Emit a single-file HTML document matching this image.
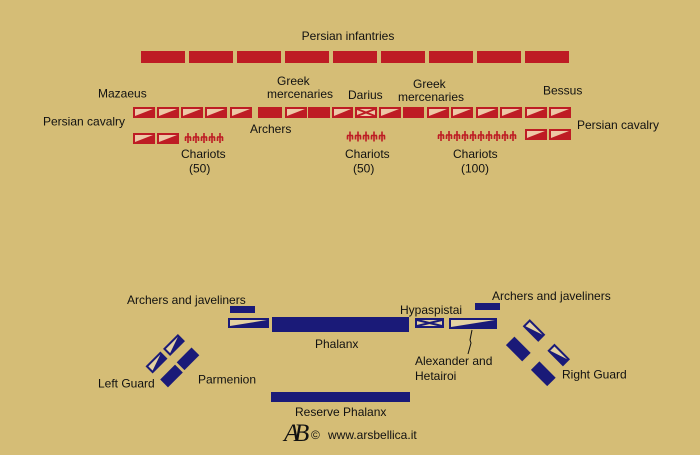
<!DOCTYPE html>
<html>
<head>
<meta charset="utf-8">
<style>
  html, body { margin:0; padding:0; background:#D5BD76; }
  svg { display:block; }
  text { font-family:"Liberation Sans", Arial, sans-serif; font-size:12px; fill:#111; }
</style>
</head>
<body>
<svg width="700" height="455" viewBox="0 0 700 455" xmlns="http://www.w3.org/2000/svg">
  <rect width="700" height="455" fill="#D5BD76"/>

  <!-- Persian infantries -->
  <text x="348" y="40" text-anchor="middle">Persian infantries</text>
  <g fill="#BE1C24">
    <rect x="141" y="51" width="44" height="12"/>
    <rect x="189" y="51" width="44" height="12"/>
    <rect x="237" y="51" width="44" height="12"/>
    <rect x="285" y="51" width="44" height="12"/>
    <rect x="333" y="51" width="44" height="12"/>
    <rect x="381" y="51" width="44" height="12"/>
    <rect x="429" y="51" width="44" height="12"/>
    <rect x="477" y="51" width="44" height="12"/>
    <rect x="525" y="51" width="44" height="12"/>
  </g>

  <!-- Persian labels -->
  <text x="98" y="97.5">Mazaeus</text>
  <text x="43" y="125.5">Persian cavalry</text>
  <text x="277" y="85">Greek</text>
  <text x="267" y="98">mercenaries</text>
  <text x="348" y="99">Darius</text>
  <text x="413" y="88">Greek</text>
  <text x="398" y="101">mercenaries</text>
  <text x="543" y="94.5">Bessus</text>
  <text x="577" y="129">Persian cavalry</text>
  <text x="250" y="133">Archers</text>
  <text x="181" y="158">Chariots</text>
  <text x="189" y="172.5">(50)</text>
  <text x="345" y="158">Chariots</text>
  <text x="353" y="172.5">(50)</text>
  <text x="453" y="158">Chariots</text>
  <text x="461" y="172.5">(100)</text>

  <!-- Persian front line -->
  <g transform="translate(133,107)"><rect width="22" height="11" fill="#BE1C24"/><polygon points="2,2 20,2 2,9" fill="#EDC8A6"/></g>
  <g transform="translate(157,107)"><rect width="22" height="11" fill="#BE1C24"/><polygon points="2,2 20,2 2,9" fill="#EDC8A6"/></g>
  <g transform="translate(181,107)"><rect width="22" height="11" fill="#BE1C24"/><polygon points="2,2 20,2 2,9" fill="#EDC8A6"/></g>
  <g transform="translate(205,107)"><rect width="22" height="11" fill="#BE1C24"/><polygon points="2,2 20,2 2,9" fill="#EDC8A6"/></g>
  <g transform="translate(230,107)"><rect width="22" height="11" fill="#BE1C24"/><polygon points="2,2 20,2 2,9" fill="#EDC8A6"/></g>
  <rect x="258" y="107" width="24" height="11" fill="#BE1C24"/>
  <g transform="translate(285,107)"><rect width="22" height="11" fill="#BE1C24"/><polygon points="2,2 20,2 2,9" fill="#EDC8A6"/></g>
  <rect x="308" y="107" width="22" height="11" fill="#BE1C24"/>
  <g transform="translate(332,107)"><rect width="21" height="11" fill="#BE1C24"/><polygon points="2,2 19,2 2,9" fill="#EDC8A6"/></g>
  <g transform="translate(355,107)"><rect width="22" height="11" fill="#BE1C24"/><rect x="2" y="2" width="18" height="7" fill="#EDC8A6"/><path d="M2,2 L20,9 M20,2 L2,9" stroke="#BE1C24" stroke-width="2"/></g>
  <g transform="translate(379,107)"><rect width="22" height="11" fill="#BE1C24"/><polygon points="2,2 20,2 2,9" fill="#EDC8A6"/></g>
  <rect x="403" y="107" width="21" height="11" fill="#BE1C24"/>
  <g transform="translate(427,107)"><rect width="22" height="11" fill="#BE1C24"/><polygon points="2,2 20,2 2,9" fill="#EDC8A6"/></g>
  <g transform="translate(451,107)"><rect width="22" height="11" fill="#BE1C24"/><polygon points="2,2 20,2 2,9" fill="#EDC8A6"/></g>
  <g transform="translate(476,107)"><rect width="22" height="11" fill="#BE1C24"/><polygon points="2,2 20,2 2,9" fill="#EDC8A6"/></g>
  <g transform="translate(500,107)"><rect width="22" height="11" fill="#BE1C24"/><polygon points="2,2 20,2 2,9" fill="#EDC8A6"/></g>
  <g transform="translate(525,107)"><rect width="22" height="11" fill="#BE1C24"/><polygon points="2,2 20,2 2,9" fill="#EDC8A6"/></g>
  <g transform="translate(549,107)"><rect width="22" height="11" fill="#BE1C24"/><polygon points="2,2 20,2 2,9" fill="#EDC8A6"/></g>

  <!-- Persian second row -->
  <g transform="translate(133,133)"><rect width="22" height="11" fill="#BE1C24"/><polygon points="2,2 20,2 2,9" fill="#EDC8A6"/></g>
  <g transform="translate(157,133)"><rect width="22" height="11" fill="#BE1C24"/><polygon points="2,2 20,2 2,9" fill="#EDC8A6"/></g>
  <g transform="translate(525,129)"><rect width="22" height="11" fill="#BE1C24"/><polygon points="2,2 20,2 2,9" fill="#EDC8A6"/></g>
  <g transform="translate(549,129)"><rect width="22" height="11" fill="#BE1C24"/><polygon points="2,2 20,2 2,9" fill="#EDC8A6"/></g>

  <!-- Chariots -->
  <g stroke="#BE1C24" stroke-width="1.6" fill="none">
    <g transform="translate(188,133)"><path d="M0,0 V10 M-3,4 H3 M-2.5,4 V8 M2.5,4 V8"/></g>
    <g transform="translate(196,133)"><path d="M0,0 V10 M-3,4 H3 M-2.5,4 V8 M2.5,4 V8"/></g>
    <g transform="translate(204,133)"><path d="M0,0 V10 M-3,4 H3 M-2.5,4 V8 M2.5,4 V8"/></g>
    <g transform="translate(212,133)"><path d="M0,0 V10 M-3,4 H3 M-2.5,4 V8 M2.5,4 V8"/></g>
    <g transform="translate(220,133)"><path d="M0,0 V10 M-3,4 H3 M-2.5,4 V8 M2.5,4 V8"/></g>
    <g transform="translate(350,131.5)"><path d="M0,0 V10 M-3,4 H3 M-2.5,4 V8 M2.5,4 V8"/></g>
    <g transform="translate(358,131.5)"><path d="M0,0 V10 M-3,4 H3 M-2.5,4 V8 M2.5,4 V8"/></g>
    <g transform="translate(366,131.5)"><path d="M0,0 V10 M-3,4 H3 M-2.5,4 V8 M2.5,4 V8"/></g>
    <g transform="translate(374,131.5)"><path d="M0,0 V10 M-3,4 H3 M-2.5,4 V8 M2.5,4 V8"/></g>
    <g transform="translate(382,131.5)"><path d="M0,0 V10 M-3,4 H3 M-2.5,4 V8 M2.5,4 V8"/></g>
    <g transform="translate(441,131)"><path d="M0,0 V10 M-3,4 H3 M-2.5,4 V8 M2.5,4 V8"/></g>
    <g transform="translate(449,131)"><path d="M0,0 V10 M-3,4 H3 M-2.5,4 V8 M2.5,4 V8"/></g>
    <g transform="translate(457,131)"><path d="M0,0 V10 M-3,4 H3 M-2.5,4 V8 M2.5,4 V8"/></g>
    <g transform="translate(465,131)"><path d="M0,0 V10 M-3,4 H3 M-2.5,4 V8 M2.5,4 V8"/></g>
    <g transform="translate(473,131)"><path d="M0,0 V10 M-3,4 H3 M-2.5,4 V8 M2.5,4 V8"/></g>
    <g transform="translate(481,131)"><path d="M0,0 V10 M-3,4 H3 M-2.5,4 V8 M2.5,4 V8"/></g>
    <g transform="translate(489,131)"><path d="M0,0 V10 M-3,4 H3 M-2.5,4 V8 M2.5,4 V8"/></g>
    <g transform="translate(497,131)"><path d="M0,0 V10 M-3,4 H3 M-2.5,4 V8 M2.5,4 V8"/></g>
    <g transform="translate(505,131)"><path d="M0,0 V10 M-3,4 H3 M-2.5,4 V8 M2.5,4 V8"/></g>
    <g transform="translate(513,131)"><path d="M0,0 V10 M-3,4 H3 M-2.5,4 V8 M2.5,4 V8"/></g>
  </g>

  <!-- Macedonian labels -->
  <text x="127" y="304">Archers and javeliners</text>
  <text x="492" y="300">Archers and javeliners</text>
  <text x="400" y="314">Hypaspistai</text>
  <text x="315" y="348">Phalanx</text>
  <text x="415" y="365">Alexander and</text>
  <text x="415" y="380">Hetairoi</text>
  <text x="98" y="387.5">Left Guard</text>
  <text x="198" y="383.5">Parmenion</text>
  <text x="562" y="378.5">Right Guard</text>
  <text x="295" y="416">Reserve Phalanx</text>

  <!-- Macedonian line -->
  <rect x="230" y="306" width="25" height="7" fill="#1A1A78"/>
  <g transform="translate(228,318)"><rect width="41" height="10" fill="#1A1A78"/><polygon points="2,2 39,2 2,8" fill="#E4D2A2"/></g>
  <rect x="272" y="317" width="137" height="15" fill="#1A1A78"/>
  <g transform="translate(415,318)"><rect width="29" height="10" fill="#1A1A78"/><rect x="2" y="2" width="25" height="6" fill="#E4D2A2"/><path d="M2,2 L27,8 M27,2 L2,8" stroke="#1A1A78" stroke-width="2"/></g>
  <g transform="translate(449,318)"><rect width="48" height="11" fill="#1A1A78"/><polygon points="2,2 46,2 2,9" fill="#E4D2A2"/></g>
  <rect x="475" y="303" width="25" height="7" fill="#1A1A78"/>
  <rect x="271" y="392" width="139" height="10" fill="#1A1A78"/>

  <!-- connector -->
  <polyline points="472,330 470,340 471,343 468,354" fill="none" stroke="#111" stroke-width="1"/>

  <!-- Left guard -->
  <g transform="translate(174,345) rotate(-45)"><rect x="-10.5" y="-5" width="21" height="10" fill="#1A1A78"/><polygon points="-8.5,-3 8.5,-3 -8.5,3" fill="#E4D2A2"/></g>
  <g transform="translate(156.5,362.5) rotate(-45)"><rect x="-10.5" y="-5" width="21" height="10" fill="#1A1A78"/><polygon points="-8.5,-3 8.5,-3 -8.5,3" fill="#E4D2A2"/></g>
  <g transform="translate(188,358.8) rotate(-45)"><rect x="-10.5" y="-5.5" width="21" height="11" fill="#1A1A78"/></g>
  <g transform="translate(171.5,376) rotate(-45)"><rect x="-10.5" y="-5.5" width="21" height="11" fill="#1A1A78"/></g>

  <!-- Right guard -->
  <g transform="translate(534,330.5) rotate(45)"><rect x="-11" y="-5" width="22" height="10" fill="#1A1A78"/><polygon points="-9,-3 9,-3 -9,3" fill="#E4D2A2"/></g>
  <g transform="translate(558.7,355) rotate(45)"><rect x="-11" y="-5" width="22" height="10" fill="#1A1A78"/><polygon points="-9,-3 9,-3 -9,3" fill="#E4D2A2"/></g>
  <g transform="translate(518.3,349) rotate(45)"><rect x="-11.5" y="-6" width="23" height="12" fill="#1A1A78"/></g>
  <g transform="translate(543.3,373.8) rotate(45)"><rect x="-11.5" y="-6" width="23" height="12" fill="#1A1A78"/></g>

  <!-- Logo -->
  <text x="284" y="441" style="font-family:'Liberation Serif',serif;font-style:italic;font-size:25px;fill:#111">A</text>
  <text x="294" y="441" style="font-family:'Liberation Serif',serif;font-style:italic;font-size:25px;fill:#111">B</text>
  <text x="311" y="439">©</text>
  <text x="328" y="439">www.arsbellica.it</text>
</svg>
</body>
</html>
